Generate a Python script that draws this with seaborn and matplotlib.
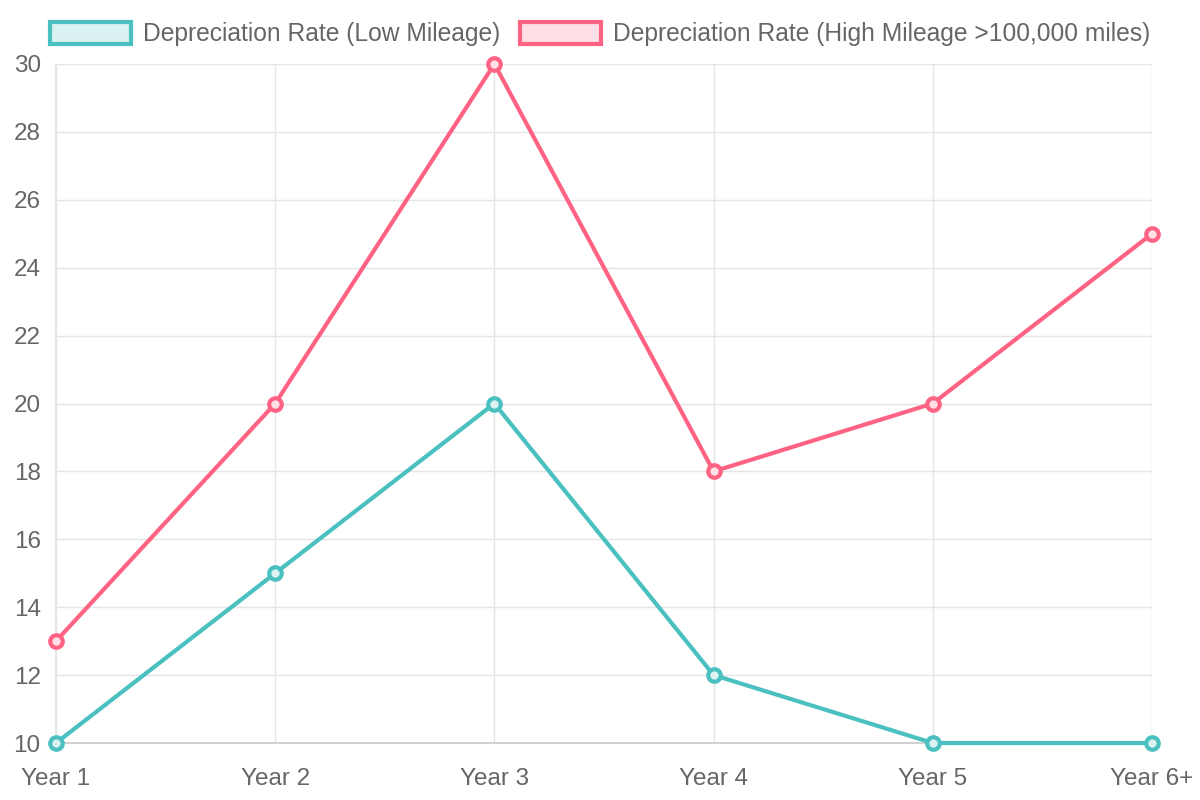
import matplotlib.pyplot as plt
import pandas as pd
import seaborn as sns
from matplotlib.patches import Patch

# --- データ ---
years = ["Year 1", "Year 2", "Year 3", "Year 4", "Year 5", "Year 6+"]
low_mileage = [10, 15, 20, 12, 10, 10]
high_mileage = [13, 20, 30, 18, 20, 25]
series_names = ["Depreciation Rate (Low Mileage)", "Depreciation Rate (High Mileage >100,000 miles)"]

TEAL = "#4bc0c0"
PINK = "#ff6384"
TEXT = "#666666"
GRID = "#e5e5e5"

sns.set_theme(style="white")
plt.rcParams["font.family"] = ["Liberation Sans", "DejaVu Sans"]

df = pd.DataFrame({
    "year": years * 2,
    "rate": low_mileage + high_mileage,
    "series": [series_names[0]] * len(years) + [series_names[1]] * len(years),
})

fig = plt.figure(figsize=(12, 8), dpi=100)
ax = fig.add_axes([56 / 1200, 1 - 743 / 800, (1152 - 56) / 1200, (743 - 64) / 800])

colors = [TEAL, PINK]
sns.lineplot(data=df, x="year", y="rate", hue="series", palette=colors,
             sort=False, linewidth=3, legend=False, ax=ax, zorder=3)
for line, col, fill in zip(ax.get_lines(), colors, ["#dbf2f2", "#ffe0e6"]):
    line.set_marker("o")
    line.set_markersize(9)
    line.set_markeredgewidth(3)
    line.set_markeredgecolor(col)
    line.set_markerfacecolor(fill)
    line.set_clip_on(False)

ax.set_xlim(0, len(years) - 1)
ax.set_ylim(10, 30)
ax.set_yticks(range(10, 31, 2))
ax.set_xlabel("")
ax.set_ylabel("")
ax.grid(True, color=GRID, linewidth=1)
for side in ["top", "right"]:
    ax.spines[side].set_visible(False)
ax.spines["bottom"].set_color("#cccccc")
ax.spines["left"].set_color(GRID)
ax.tick_params(axis="both", colors=GRID, labelcolor=TEXT, labelsize=17.5, length=6, width=1)
ax.tick_params(axis="y", pad=5)
ax.tick_params(axis="x", pad=12)

handles = [
    Patch(facecolor="#dbf2f2", edgecolor=TEAL, linewidth=3),
    Patch(facecolor="#ffe0e6", edgecolor=PINK, linewidth=3),
]
fig.legend(handles, series_names, loc="upper center", bbox_to_anchor=(0.5, 0.993),
           ncol=2, frameon=False, fontsize=17.7, labelcolor=TEXT,
           handlelength=3.3, handleheight=1.0, handletextpad=0.5, columnspacing=0.8,
           borderaxespad=0.25)

fig.savefig("out.png", dpi=100)
